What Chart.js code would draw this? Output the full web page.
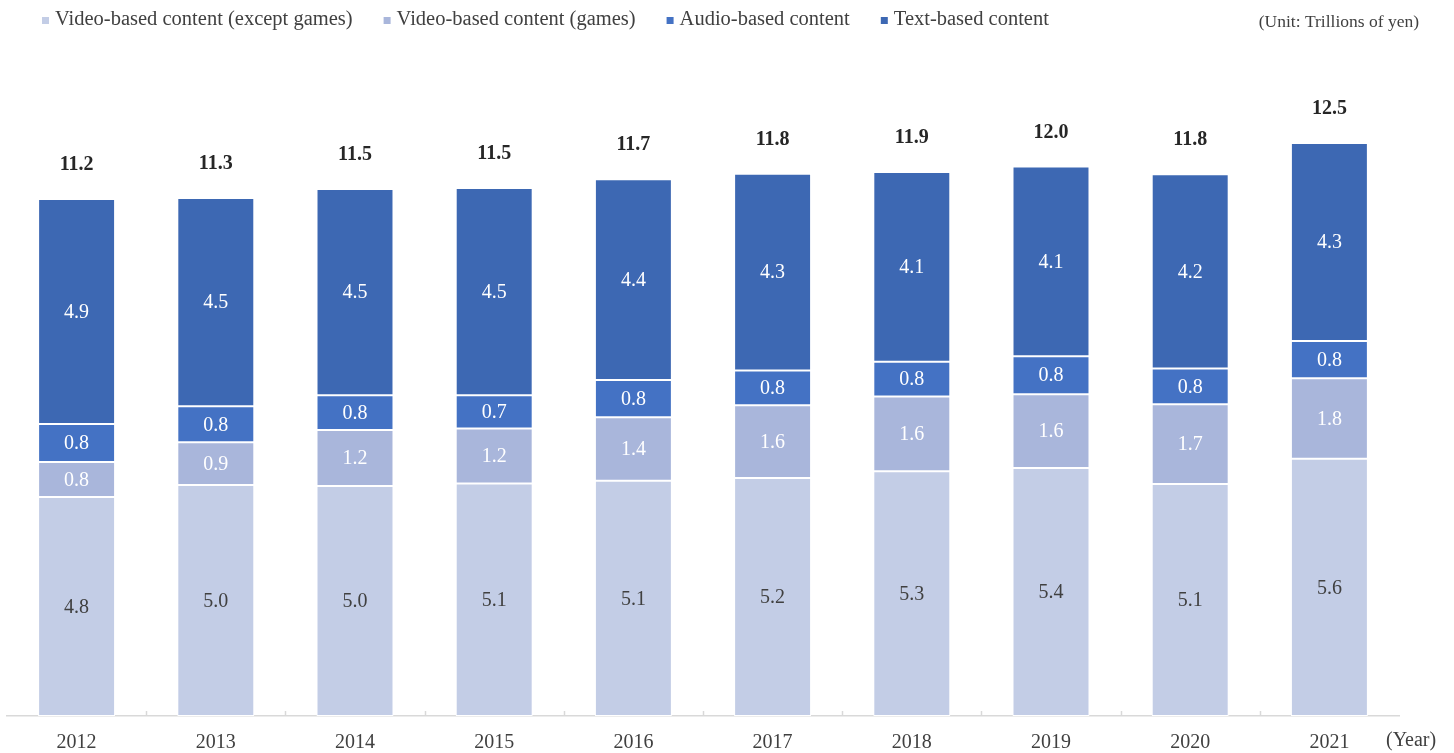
<!DOCTYPE html>
<html>
<head>
<meta charset="utf-8">
<script src="https://cdn.jsdelivr.net/npm/chart.js@4/dist/chart.umd.min.js"></script>
<style>
  html, body { margin: 0; padding: 0; background: #ffffff; }
  #wrap { width: 1454px; height: 753px; }
</style>
</head>
<body>
<div id="wrap"><canvas id="c" width="1454" height="753"></canvas></div>
<script>
// ---- Data (trillions of yen) ----
const years = ['2012','2013','2014','2015','2016','2017','2018','2019','2020','2021'];
const videoExceptGames = [4.78, 5.04, 5.02, 5.07, 5.13, 5.19, 5.34, 5.41, 5.06, 5.61];
const videoGames       = [0.76, 0.93, 1.22, 1.20, 1.39, 1.59, 1.63, 1.61, 1.74, 1.76];
const audioContent     = [0.83, 0.79, 0.76, 0.73, 0.81, 0.76, 0.76, 0.83, 0.78, 0.81];
const textContent      = [4.91, 4.54, 4.50, 4.52, 4.38, 4.29, 4.14, 4.14, 4.24, 4.32];
const totals           = [11.2, 11.3, 11.5, 11.5, 11.7, 11.8, 11.9, 12.0, 11.8, 12.5];
const seriesNames = ['Video-based content (except games)', 'Video-based content (games)', 'Audio-based content', 'Text-based content'];
const unitText = '(Unit: Trillions of yen)';
const axisUnit = '(Year)';

const colors = ['#C3CDE6', '#A9B6DB', '#4472C4', '#3D68B3'];
const labelColors = ['#404040', '#ffffff', '#ffffff', '#ffffff'];
const SERIF = '"Liberation Serif", "Times New Roman", serif';

const overlay = {
  id: 'overlay',
  afterDatasetsDraw(chart) {
    const ctx = chart.ctx;
    const area = chart.chartArea;
    const xs = chart.scales.x;
    ctx.save();
    // segment labels
    ctx.font = '20px ' + SERIF;
    ctx.textAlign = 'center';
    ctx.textBaseline = 'middle';
    chart.data.datasets.forEach((ds, di) => {
      const meta = chart.getDatasetMeta(di);
      meta.data.forEach((el, i) => {
        const v = ds.data[i];
        ctx.fillStyle = labelColors[di];
        ctx.fillText(v.toFixed(1), el.x, (el.y + el.base) / 2 + 1);
      });
    });
    // totals
    const topMeta = chart.getDatasetMeta(chart.data.datasets.length - 1);
    ctx.font = 'bold 20px ' + SERIF;
    ctx.fillStyle = '#262626';
    topMeta.data.forEach((el, i) => {
      ctx.fillText(totals[i].toFixed(1), el.x, el.y - 34);
    });
    // tick marks (above axis line, at category boundaries)
    ctx.strokeStyle = '#D9D9D9';
    ctx.lineWidth = 1.5;
    for (let i = 1; i < years.length; i++) {
      const x = Math.round((xs.getPixelForValue(i - 1) + xs.getPixelForValue(i)) / 2) + 0.5;
      ctx.beginPath();
      ctx.moveTo(x, area.bottom - 5);
      ctx.lineTo(x, area.bottom);
      ctx.stroke();
    }
    // (Year)
    ctx.font = '20px ' + SERIF;
    ctx.fillStyle = '#404040';
    ctx.textAlign = 'left';
    ctx.fillText(axisUnit, 1386, 741);
    // unit text
    ctx.font = '17.5px ' + SERIF;
    ctx.fillStyle = '#404040';
    ctx.textAlign = 'right';
    ctx.fillText(unitText, 1419, 22);
    // legend
    ctx.font = '20.5px ' + SERIF;
    ctx.textAlign = 'left';
    let lx = 42;
    chart.data.datasets.forEach((ds, di) => {
      ctx.fillStyle = colors[di];
      ctx.fillRect(lx, 17, 7, 7);
      ctx.fillStyle = '#404040';
      ctx.fillText(ds.label, lx + 13, 20);
      lx += 13 + ctx.measureText(ds.label).width + 31;
    });
    ctx.restore();
  }
};

const seriesData = [videoExceptGames, videoGames, audioContent, textContent];

new Chart(document.getElementById('c'), {
  type: 'bar',
  data: {
    labels: years,
    datasets: seriesData.map((d, i) => ({
      label: seriesNames[i],
      data: d,
      backgroundColor: colors[i],
      borderColor: '#ffffff',
      borderWidth: 1,
      borderSkipped: false,
      categoryPercentage: 1.0,
      barPercentage: 0.553
    }))
  },
  options: {
    responsive: false,
    devicePixelRatio: 1,
    animation: false,
    events: [],
    layout: { padding: { left: 7, right: 55, top: 72, bottom: -17 } },
    plugins: {
      legend: { display: false },
      tooltip: { enabled: false },
      title: { display: false }
    },
    scales: {
      x: {
        stacked: true,
        grid: { display: false, drawTicks: false },
        border: { display: true, color: '#D9D9D9', width: 1.5 },
        ticks: { color: '#404040', font: { family: SERIF, size: 20 }, padding: 15 }
      },
      y: {
        stacked: true,
        display: false,
        min: 0,
        max: 14.05
      }
    }
  },
  plugins: [overlay]
});
</script>
</body>
</html>
